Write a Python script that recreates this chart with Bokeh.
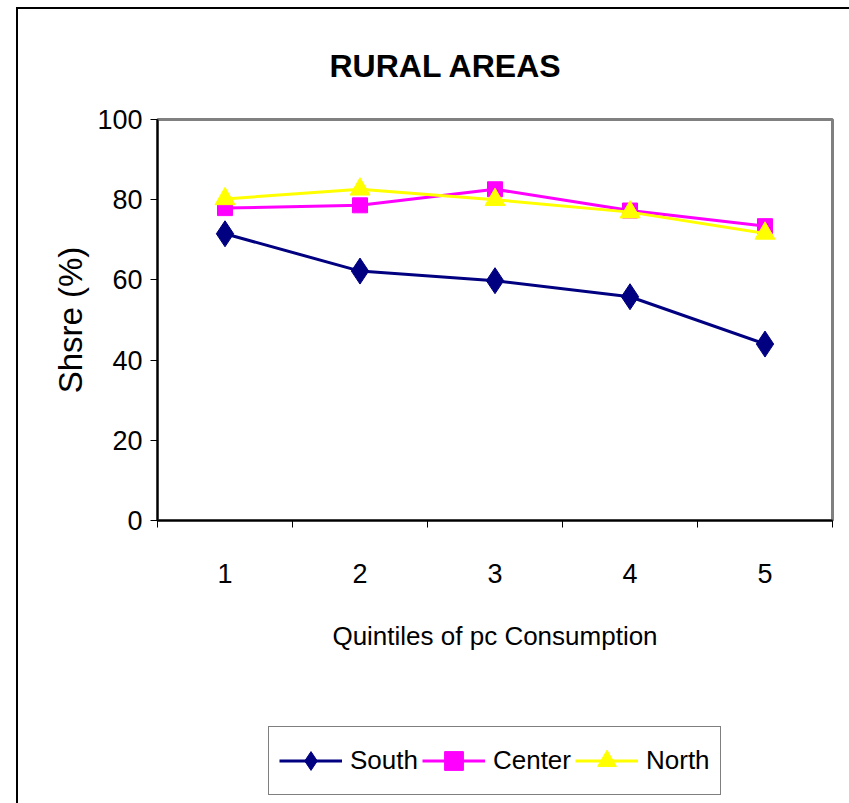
from bokeh.plotting import figure
from bokeh.embed import file_html
from bokeh.resources import INLINE
from bokeh.layouts import column
from bokeh.models import FixedTicker, Legend, LegendItem, Range1d

quintiles = [1, 2, 3, 4, 5]
tick_labels = ["1", "2", "3", "4", "5"]
south = [71.5, 62.2, 59.8, 55.8, 44.0]
center = [77.9, 78.6, 82.6, 77.3, 73.4]
north = [80.2, 82.6, 80.0, 76.9, 71.6]
series_names = ["South", "Center", "North"]
series_colors = ["#000080", "#FF00FF", "#FFFF00"]

FONT = "'Liberation Sans', Arial, sans-serif"

p = figure(width=831, height=691, output_backend="svg", toolbar_location=None,
           x_range=Range1d(0.5, 5.5), y_range=Range1d(0, 100),
           min_border_left=139, min_border_right=17, min_border_top=109,
           min_border_bottom=180)

p.title.text = "RURAL AREAS"
p.title.text_font = FONT
p.title.text_font_size = "32px"
p.title.text_font_style = "bold"
p.title.text_color = "black"
p.title.align = "left"
p.title.offset = 172
p.title.standoff = 72

p.grid.visible = False
p.outline_line_color = "#808080"
p.outline_line_width = 3
p.background_fill_color = "white"
p.border_fill_color = "white"

# x axis
p.xaxis.ticker = FixedTicker(ticks=quintiles, minor_ticks=[0.5, 1.5, 2.5, 3.5, 4.5, 5.5])
p.xaxis.major_label_overrides = {q: t for q, t in zip(quintiles, tick_labels)}
p.xaxis.major_tick_out = 0
p.xaxis.major_tick_in = 0
p.xaxis.minor_tick_out = 7
p.xaxis.minor_tick_in = 0
p.xaxis.minor_tick_line_color = "black"
p.xaxis.minor_tick_line_width = 1
p.xaxis.axis_line_color = "black"
p.xaxis.axis_line_width = 2
p.xaxis.major_label_text_font = FONT
p.xaxis.major_label_text_font_size = "27px"
p.xaxis.major_label_text_color = "black"
p.xaxis.major_label_standoff = 36
p.xaxis.axis_label = "Quintiles of pc Consumption"
p.xaxis.axis_label_text_font = FONT
p.xaxis.axis_label_text_font_size = "26px"
p.xaxis.axis_label_text_font_style = "normal"
p.xaxis.axis_label_text_color = "black"
p.xaxis.axis_label_standoff = 35

# y axis
p.yaxis.ticker = FixedTicker(ticks=[0, 20, 40, 60, 80, 100])
p.yaxis.major_tick_out = 7
p.yaxis.major_tick_in = 0
p.yaxis.minor_tick_out = 0
p.yaxis.major_tick_line_color = "black"
p.yaxis.axis_line_color = "black"
p.yaxis.axis_line_width = 2
p.yaxis.major_label_text_font = FONT
p.yaxis.major_label_text_font_size = "27px"
p.yaxis.major_label_text_color = "black"
p.yaxis.major_label_standoff = 8
p.yaxis.axis_label = "Shsre (%)"
p.yaxis.axis_label_text_font = FONT
p.yaxis.axis_label_text_font_size = "33px"
p.yaxis.axis_label_text_font_style = "normal"
p.yaxis.axis_label_text_color = "black"
p.yaxis.axis_label_standoff = 5

markers = ["diamond", "square", "triangle"]
sizes = [26, 15, 20]
values = [south, center, north]
for vals, col, mk, sz in zip(values, series_colors, markers, sizes):
    p.line(quintiles, vals, line_color=col, line_width=3)
    p.scatter(quintiles, vals, marker=mk, size=sz, fill_color=col, line_color=col)

# legend strip: same series drawn outside its view, only the legend is visible
lf = figure(width=831, height=103, output_backend="svg", toolbar_location=None,
            x_range=Range1d(-20, -19), y_range=Range1d(-20, -19),
            x_axis_type=None, y_axis_type=None,
            min_border_left=0, min_border_right=0, min_border_top=0,
            min_border_bottom=0)
lf.grid.visible = False
lf.outline_line_color = None
lf.background_fill_color = "white"
lf.border_fill_color = "white"

items = []
for name, vals, col, mk, sz in zip(series_names, values, series_colors, markers, [18, 15, 20]):
    r1 = lf.line(quintiles, vals, line_color=col, line_width=3)
    r2 = lf.scatter(quintiles, vals, marker=mk, size=sz, fill_color=col, line_color=col)
    items.append(LegendItem(label=name, renderers=[r1, r2]))

legend = Legend(items=items, orientation="horizontal", location=(111, 8),
                label_text_font=FONT, label_text_font_size="26px",
                label_text_color="black",
                glyph_width=63, glyph_height=47, spacing=4, padding=10,
                label_standoff=8, margin=0,
                border_line_color="black", border_line_width=1,
                background_fill_alpha=1)
lf.add_layout(legend, "center")

layout = column(p, lf, spacing=0,
                styles={"margin-left": "16px", "margin-top": "7px",
                        "border-left": "2px solid black",
                        "border-top": "2px solid black"})

open("out.html", "w").write(file_html(layout, INLINE))
